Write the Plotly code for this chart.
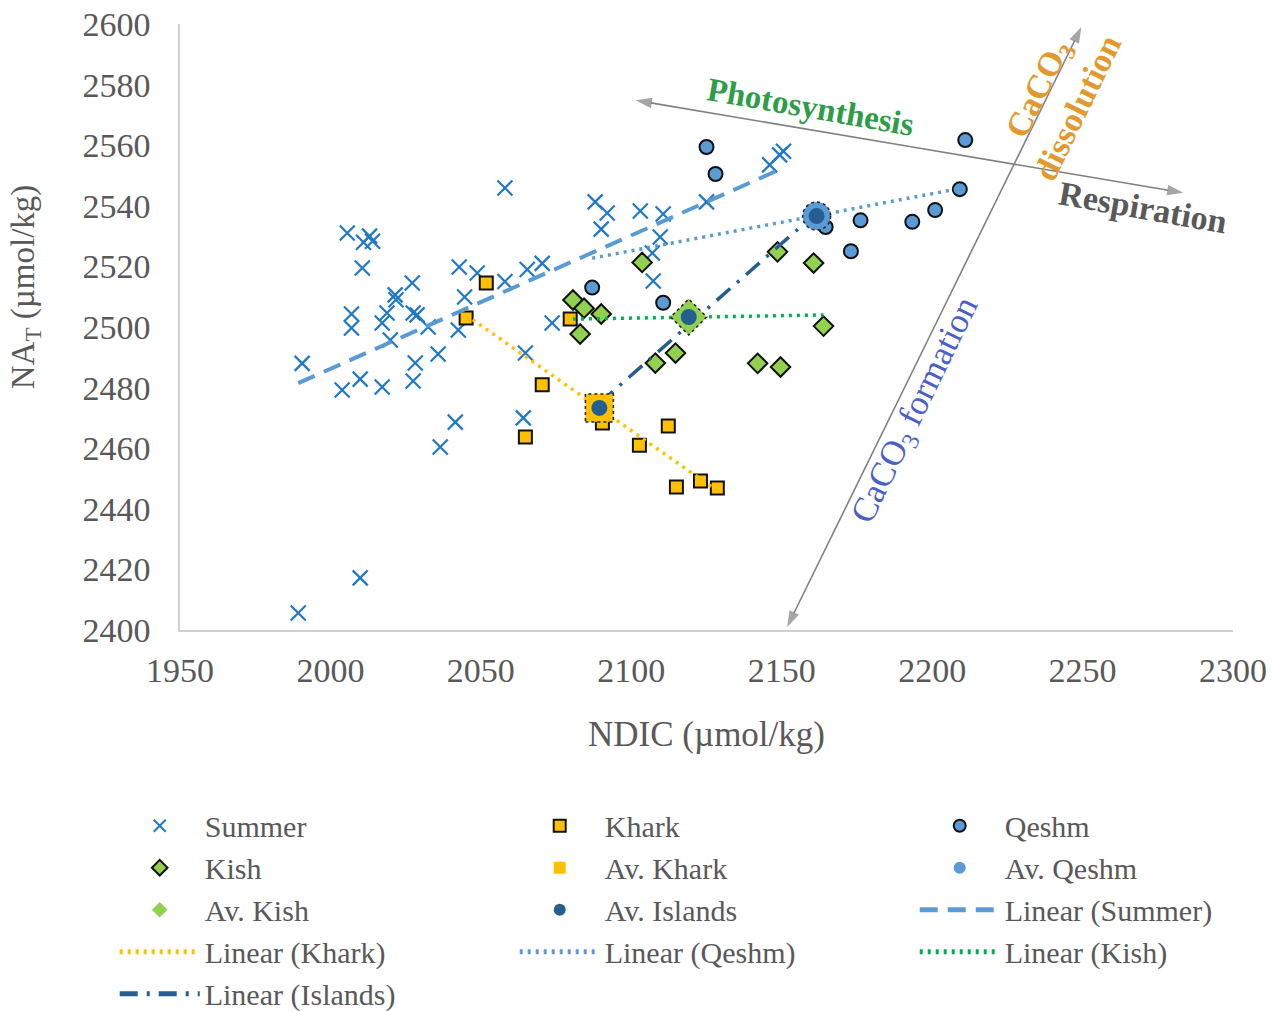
import numpy as np
import plotly.graph_objects as go

# --- Summer survey (NDIC, NAT in µmol/kg) ---
summer_x = [1989.3, 2009.9, 1990.6, 2003.9, 2005.6, 2007.0, 2007.0, 2009.9, 2010.6, 2011.0,
            2013.0, 2014.0, 2017.2, 2017.2, 2018.8, 2019.9, 2021.5, 2021.8, 2027.2, 2027.5,
            2028.8, 2028.2, 2027.5, 2032.5, 2035.8, 2036.5, 2041.5, 2042.8, 2042.5, 2044.6,
            2048.8, 2058.0, 2058.0, 2064.8, 2064.1, 2065.4, 2070.4, 2073.7, 2088.0, 2092.0,
            2090.0, 2103.0, 2110.6, 2109.6, 2107.0, 2107.3, 2125.0, 2146.0, 2149.3, 2150.6]
summer_y = [2405.6, 2417.2, 2488.0, 2479.2, 2531.0, 2504.3, 2499.7, 2482.8, 2519.5, 2528.0,
            2530.0, 2528.3, 2480.2, 2501.3, 2504.6, 2495.7, 2510.6, 2509.0, 2514.5, 2504.6,
            2504.0, 2488.1, 2482.2, 2500.0, 2491.1, 2460.4, 2468.6, 2519.8, 2499.0, 2509.9,
            2517.8, 2515.0, 2545.9, 2491.4, 2470.0, 2519.0, 2521.0, 2501.3, 2541.3, 2537.6,
            2532.3, 2538.3, 2537.3, 2529.7, 2524.4, 2515.2, 2541.3, 2553.5, 2556.8, 2558.0]

# --- Island stations ---
kharg_x = [2051.8, 2045.1, 2079.7, 2070.4, 2064.8, 2090.4, 2112.3, 2102.7, 2115.0, 2123.0, 2128.6]
kharg_y = [2514.5, 2503.0, 2502.6, 2480.9, 2463.7, 2468.3, 2467.3, 2461.0, 2447.2, 2449.2, 2446.9]

qeshm_x = [2087.0, 2110.6, 2125.0, 2128.0, 2164.6, 2173.0, 2176.2, 2193.4, 2201.0, 2209.2, 2211.0]
qeshm_y = [2513.0, 2508.0, 2559.4, 2550.5, 2533.0, 2525.0, 2535.2, 2534.7, 2538.6, 2545.5, 2561.7]

kish_x = [2080.6, 2084.3, 2090.0, 2083.0, 2103.6, 2108.0, 2114.7, 2142.0, 2148.6, 2149.6, 2160.6, 2163.9]
kish_y = [2508.9, 2506.2, 2504.3, 2497.7, 2521.3, 2488.1, 2491.4, 2488.0, 2524.8, 2486.8, 2521.1, 2500.3]

# island averages: Kharg, Kish, Qeshm
avg_names = ["Av. Khark", "Av. Kish", "Av. Qeshm"]
avg_x = [2089.4, 2119.1, 2161.6]
avg_y = [2473.3, 2503.3, 2536.6]

x_ticks = [1950, 2000, 2050, 2100, 2150, 2200, 2250, 2300]
y_ticks = [2400, 2420, 2440, 2460, 2480, 2500, 2520, 2540, 2560, 2580, 2600]

# process arrows (end points, data units)
photo_resp_arrow = dict(x0=2101.5, y0=2574.8, x1=2283.5, y1=2544.3)
caco3_arrow = dict(x0=2151.8, y0=2401.0, x1=2249.6, y1=2599.0)

SERIF = "Liberation Serif, Times New Roman, serif"
GREY = "#595959"
C_SUMMER = "#1f78c8"
C_KHARG = "#ffc000"
C_QESHM = "#5b9bd5"
C_KISH = "#92d050"
C_ISL = "#255e91"
C_ARROW = "#808080"


def trend(xs, ys):
    """Least-squares line drawn across the range of the series."""
    xs = np.asarray(xs, float)
    ys = np.asarray(ys, float)
    k, b = np.polyfit(xs, ys, 1)
    xe = np.array([xs.min(), xs.max()])
    return xe, k * xe + b


fig = go.Figure()

fig.add_trace(go.Scatter(x=summer_x, y=summer_y, mode="markers", name="Summer", legendrank=1,
                         marker=dict(symbol="x-thin", size=15, line=dict(width=2.2, color=C_SUMMER),
                                     color=C_SUMMER)))
fig.add_trace(go.Scatter(x=kharg_x, y=kharg_y, mode="markers", name="Khark", legendrank=2,
                         marker=dict(symbol="square", size=13, color=C_KHARG,
                                     line=dict(width=2, color="#111"))))
fig.add_trace(go.Scatter(x=qeshm_x, y=qeshm_y, mode="markers", name="Qeshm", legendrank=3,
                         marker=dict(symbol="circle", size=14, color=C_QESHM,
                                     line=dict(width=2, color="#111"))))
fig.add_trace(go.Scatter(x=kish_x, y=kish_y, mode="markers", name="Kish", legendrank=4,
                         marker=dict(symbol="diamond", size=15, color=C_KISH,
                                     line=dict(width=2, color="#111"))))

# double-headed process arrows: each half runs from the midpoint out to an arrowhead
for a in (photo_resp_arrow, caco3_arrow):
    mx, my = (a["x0"] + a["x1"]) / 2, (a["y0"] + a["y1"]) / 2
    for ex, ey in ((a["x0"], a["y0"]), (a["x1"], a["y1"])):
        fig.add_trace(go.Scatter(x=[mx, ex], y=[my, ey], mode="lines+markers", showlegend=False,
                                 hoverinfo="skip", cliponaxis=False,
                                 line=dict(color=C_ARROW, width=1.6),
                                 marker=dict(symbol="arrow", angleref="previous", size=[0, 17],
                                             color=C_ARROW, line=dict(width=0))))

# trend lines
for xs, ys, nm, col, dash, w, rk in [
    (summer_x, summer_y, "Linear (Summer)", C_QESHM, "18px,10px", 4, 9),
    (kharg_x, kharg_y, "Linear (Khark)", C_KHARG, "3px,5px", 3.5, 10),
    (qeshm_x, qeshm_y, "Linear (Qeshm)", C_QESHM, "3px,5px", 3.5, 11),
    (kish_x, kish_y, "Linear (Kish)", "#00b050", "3px,5px", 3.5, 12),
    (avg_x, avg_y, "Linear (Islands)", C_ISL, "18px,9px,3px,9px", 3.5, 13),
]:
    lx, ly = trend(xs, ys)
    fig.add_trace(go.Scatter(x=lx, y=ly, mode="lines", name=nm, legendrank=rk,
                             line=dict(color=col, width=w, dash=dash)))

# average markers
fig.add_trace(go.Scatter(x=[avg_x[0]], y=[avg_y[0]], mode="markers", name="Av. Khark", legendrank=5,
                         marker=dict(symbol="square", size=28, color=C_KHARG, line=dict(width=0))))
fig.add_trace(go.Scatter(x=[avg_x[2]], y=[avg_y[2]], mode="markers", name="Av. Qeshm", legendrank=6,
                         marker=dict(symbol="circle", size=28, color=C_QESHM, line=dict(width=0))))
fig.add_trace(go.Scatter(x=[avg_x[1]], y=[avg_y[1]], mode="markers", name="Av. Kish", legendrank=7,
                         marker=dict(symbol="diamond", size=28, color=C_KISH, line=dict(width=0))))
fig.add_trace(go.Scatter(x=avg_x, y=avg_y, mode="markers", name="Av. Islands", legendrank=8,
                         marker=dict(symbol="circle", size=16, color=C_ISL, line=dict(width=0))))

# dotted outlines round the average markers
outline = dict(color="#222", width=1.5, dash="dot")
shapes = [
    dict(type="rect", xref="x", yref="y", xsizemode="pixel", ysizemode="pixel",
         xanchor=avg_x[0], yanchor=avg_y[0], x0=-14, x1=14, y0=-14, y1=14,
         line=outline, layer="above"),
    dict(type="path", xref="x", yref="y", xsizemode="pixel", ysizemode="pixel",
         xanchor=avg_x[1], yanchor=avg_y[1], path="M -18 0 L 0 -18 L 18 0 L 0 18 Z",
         line=outline, layer="above"),
    dict(type="circle", xref="x", yref="y", xsizemode="pixel", ysizemode="pixel",
         xanchor=avg_x[2], yanchor=avg_y[2], x0=-14, x1=14, y0=-14, y1=14,
         line=outline, layer="above"),
]

annotations = [
    dict(x=2159.6, y=2572.6, text="<b>Photosynthesis</b>", textangle=10, showarrow=False,
         font=dict(family=SERIF, size=33, color="#2e9d47")),
    dict(x=2270.0, y=2539.6, text="<b>Respiration</b>", textangle=10, showarrow=False,
         font=dict(family=SERIF, size=34, color=GREY)),
    dict(x=2241.5, y=2575.5, text="<b>CaCO<sub>3</sub><br>dissolution</b>", textangle=-64,
         showarrow=False, font=dict(family=SERIF, size=34, color="#e29a2e")),
    dict(x=2194.5, y=2472.6, text="CaCO<sub>3</sub> formation", textangle=-64, showarrow=False,
         font=dict(family=SERIF, size=35, color="#4b5fc8")),
    # y-axis title
    dict(x=-0.147, y=0.566, xref="paper", yref="paper", xanchor="center", yanchor="middle",
         text="NA<sub>T</sub> (µmol/kg)", textangle=-90, showarrow=False,
         font=dict(family=SERIF, size=33, color=GREY)),
]

fig.update_layout(
    width=1278, height=1011,
    margin=dict(l=180, r=45, t=24, b=381, autoexpand=False),
    paper_bgcolor="white", plot_bgcolor="white",
    font=dict(family=SERIF, color=GREY),
    shapes=shapes, annotations=annotations,
    legend=dict(orientation="h", x=-0.062, xanchor="left", y=-0.28, yanchor="top",
                entrywidth=305, entrywidthmode="pixels", itemwidth=80, itemsizing="constant",
                font=dict(family=SERIF, size=30, color=GREY), traceorder="normal"),
)
fig.update_xaxes(range=[1950, 2300], tickvals=x_ticks, showgrid=False, zeroline=False,
                 showline=True, linecolor="#d0d0d0", linewidth=1.5, ticks="",
                 tickfont=dict(family=SERIF, size=34, color=GREY), ticklabelstandoff=9,
                 title=dict(text="NDIC (µmol/kg)", font=dict(family=SERIF, size=35, color=GREY),
                            standoff=34))
fig.update_yaxes(range=[2400, 2600], tickvals=y_ticks, showgrid=False, zeroline=False,
                 showline=True, linecolor="#d0d0d0", linewidth=1.5, ticks="",
                 tickfont=dict(family=SERIF, size=34, color=GREY), ticklabelstandoff=21)

fig.write_html("out.html")
